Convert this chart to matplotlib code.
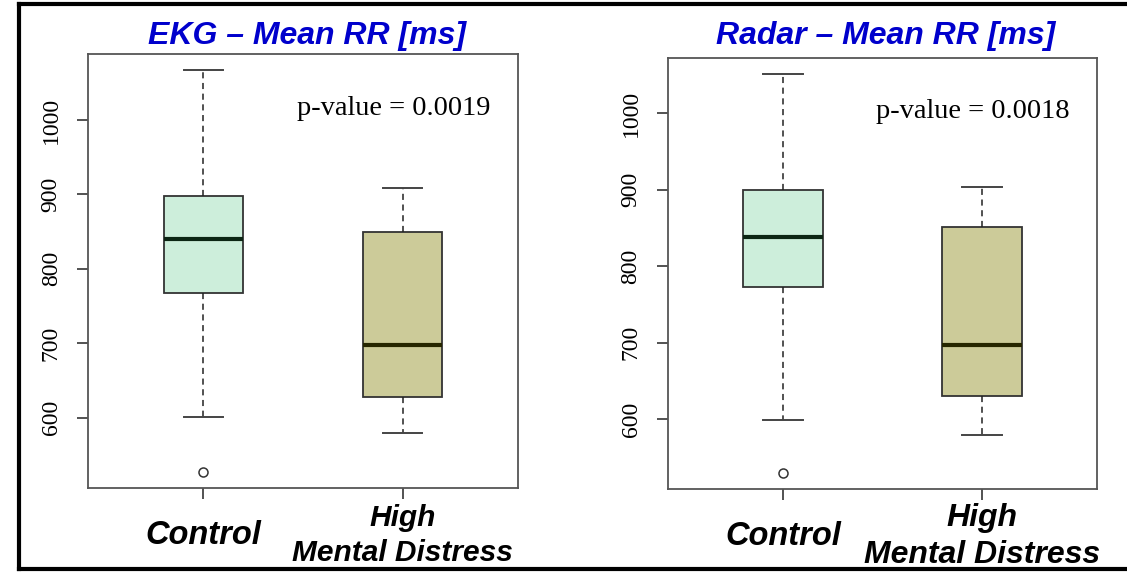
import matplotlib.pyplot as plt
from matplotlib.lines import Line2D

# five-number summaries per group, one list per panel
groups = ['Control', 'High\nMental Distress']

ekg_whislo = [601, 580]
ekg_q1 = [768, 628]
ekg_med = [840, 698]
ekg_q3 = [898, 850]
ekg_whishi = [1067, 908]
ekg_fliers = [[527], []]
ekg_p = 'p-value = 0.0019'

radar_whislo = [599, 580]
radar_q1 = [773, 631]
radar_med = [838, 697]
radar_q3 = [900, 851]
radar_whishi = [1051, 903]
radar_fliers = [[530], []]
radar_p = 'p-value = 0.0018'

box_colors = ['#cdeedb', '#cccb99']
median_colors = ['#0c2614', '#262600']


def make_stats(whislo, q1, med, q3, whishi, fliers):
    return [dict(whislo=whislo[i], q1=q1[i], med=med[i], q3=q3[i],
                 whishi=whishi[i], fliers=fliers[i]) for i in range(len(med))]


def draw_panel(ax, stats, ptext, label_sizes):
    bp = ax.bxp(stats, positions=[1, 2], widths=0.4, patch_artist=True,
                showfliers=True,
                boxprops=dict(edgecolor='#333333', linewidth=1.3),
                whiskerprops=dict(color='#222222', linewidth=1.1, linestyle=(0, (4, 3))),
                capprops=dict(color='#444444', linewidth=1.4),
                flierprops=dict(marker='o', markerfacecolor='white',
                                markeredgecolor='#333333', markersize=6.5,
                                markeredgewidth=1.1),
                medianprops=dict(linewidth=3))
    for patch, c in zip(bp['boxes'], box_colors):
        patch.set_facecolor(c)
    for line, c in zip(bp['medians'], median_colors):
        line.set_color(c)

    # R-style 4% padding on both axes
    lo = min([s['whislo'] for s in stats] + [f for s in stats for f in s['fliers']])
    hi = max(s['whishi'] for s in stats)
    pad = 0.04 * (hi - lo)
    ax.set_ylim(lo - pad, hi + pad)
    ax.set_xlim(0.42, 2.58)

    ax.set_yticks([600, 700, 800, 900, 1000])
    ax.set_yticklabels(['600', '700', '800', '900', '1000'], rotation=90,
                       va='center', family='Liberation Serif', fontsize=17)
    ax.set_xticks([1, 2])
    ax.set_xticklabels(groups, family='Liberation Sans', fontweight='bold',
                       fontstyle='italic', va='center', linespacing=1.3)
    for lab, fs in zip(ax.get_xticklabels(), label_sizes):
        lab.set_fontsize(fs)
    ax.tick_params(axis='x', length=8, width=1.3, color='#444444', pad=26)
    ax.tick_params(axis='y', length=8, width=1.3, color='#444444', pad=11)
    for sp in ax.spines.values():
        sp.set_color('#555555')
        sp.set_linewidth(1.3)

    ax.text(0.935, 0.875, ptext, transform=ax.transAxes, ha='right', va='center',
            family='Liberation Serif', fontsize=20.5)


fig = plt.figure(figsize=(11.27, 5.74), dpi=100)
ax1 = fig.add_axes([0.0781, 0.1498, 0.3815, 0.756])
ax2 = fig.add_axes([0.5927, 0.1480, 0.3807, 0.751])

draw_panel(ax1, make_stats(ekg_whislo, ekg_q1, ekg_med, ekg_q3, ekg_whishi, ekg_fliers),
           ekg_p, [23.5, 21.5])
draw_panel(ax2, make_stats(radar_whislo, radar_q1, radar_med, radar_q3, radar_whishi, radar_fliers),
           radar_p, [23.5, 23])

title_kw = dict(family='Liberation Sans', fontsize=23, fontweight='bold',
                fontstyle='italic', color='#0000cc', ha='center', va='center')
fig.text(0.2724, 0.938, 'EKG – Mean RR [ms]', **title_kw)
fig.text(0.786, 0.938, 'Radar – Mean RR [ms]', **title_kw)

# black frame around the figure (right side runs off the edge)
frame_kw = dict(color='black', linewidth=3, transform=fig.transFigure)
fig.add_artist(Line2D([0.0165, 1.0], [0.9935, 0.9935], **frame_kw))
fig.add_artist(Line2D([0.0165, 1.0], [0.0085, 0.0085], **frame_kw))
fig.add_artist(Line2D([0.0165, 0.0165], [0.0085, 0.9935], **frame_kw))

fig.savefig('out.png', dpi=100)
